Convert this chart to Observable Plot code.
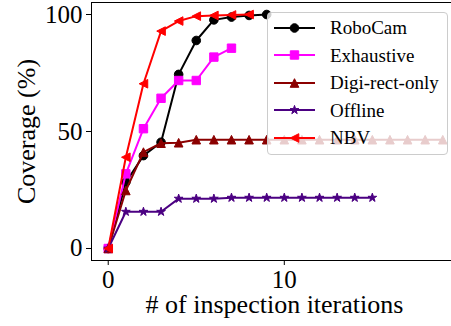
<!DOCTYPE html>
<html>
<head>
<meta charset="utf-8">
<script src="https://cdn.jsdelivr.net/npm/d3@7"></script>
<script src="https://cdn.jsdelivr.net/npm/@observablehq/plot@0.6"></script>
<style>
  html, body { margin: 0; padding: 0; background: #fff; overflow: hidden; }
  #chart { position: relative; width: 451px; height: 326px; overflow: hidden; }
  #chart svg { overflow: hidden; }
  .key-box {
    position: absolute; left: 267px; top: 12px; width: 179px; height: 141px;
    background: rgba(255,255,255,0.8); border: 1px solid #cccccc; border-radius: 4px;
    color: #000;
  }
  .key-box .row { position: absolute; left: 0; height: 27px; display: flex; align-items: center; }
  .key-box .row svg { display: block; margin-left: 6px; }
  .key-box .row span { margin-left: 15px; line-height: 1; white-space: nowrap; }
</style>
</head>
<body>
<div id="chart"></div>
<script>
// Coverage (%) after each inspection iteration, one array per method
const seriesNames = ["RoboCam", "Exhaustive", "Digi-rect-only", "Offline", "NBV"];
const robocam = [0, 28.3, 39.7, 45.4, 74.4, 88.9, 97.7, 98.9, 99.6, 100];
const exhaustive = [0, 31.9, 51.2, 64.2, 71.8, 71.8, 81.8, 85.6];
const digiRectOnly = [0, 24.8, 41.2, 45.0, 45.2, 46.5, 46.5, 46.5, 46.5, 46.5,
                      46.5, 46.5, 46.5, 46.5, 46.5, 46.5, 46.5, 46.5, 46.5, 46.5];
const offline = [0, 15.7, 15.7, 15.7, 21.3, 21.3, 21.3, 21.7, 21.7, 21.7,
                 21.7, 21.7, 21.7, 21.7, 21.7, 21.7];
const nbv = [0, 39.0, 70.4, 92.9, 97.2, 99.3, 99.6, 99.8, 100];
const xTicks = [0, 10];
const yTicks = [0, 50, 100];
const seriesColors = ["#000000", "#ff00ff", "#8b0000", "#4b0082", "#ff0000"];

const serif = "'Liberation Serif', 'Times New Roman', serif";

// Marker shapes in the style of matplotlib: o, s, ^, *, <
const half = (size) => Math.sqrt(size / Math.PI);
const mCircle = { draw(ctx, size) { const h = half(size); ctx.moveTo(h, 0); ctx.arc(0, 0, h, 0, 2 * Math.PI); } };
const mSquare = { draw(ctx, size) { const h = half(size); ctx.rect(-h, -h, 2 * h, 2 * h); } };
const mTriUp = { draw(ctx, size) { const h = half(size); ctx.moveTo(0, -h); ctx.lineTo(h, h); ctx.lineTo(-h, h); ctx.closePath(); } };
const mTriLeft = { draw(ctx, size) { const h = half(size); ctx.moveTo(-h, 0); ctx.lineTo(h, -h); ctx.lineTo(h, h); ctx.closePath(); } };
const mStar = { draw(ctx, size) {
  const h = half(size), r2 = h * 0.381966;
  for (let i = 0; i < 10; i++) {
    const a = -Math.PI / 2 + i * Math.PI / 5, r = i % 2 ? r2 : h;
    const px = r * Math.cos(a), py = r * Math.sin(a);
    i ? ctx.lineTo(px, py) : ctx.moveTo(px, py);
  }
  ctx.closePath();
} };
const symbols = [mCircle, mSquare, mTriUp, mStar, mTriLeft];
const markerR = [4.3, 4.2, 4.3, 4.6, 4.3];

const allSeries = [robocam, exhaustive, digiRectOnly, offline, nbv];
const tables = allSeries.map((vals, k) => vals.map((v, i) => ({ iter: i, coverage: v, method: seriesNames[k] })));

const marks = [];
tables.forEach((rows, k) => {
  marks.push(Plot.line(rows, { x: "iter", y: "coverage", stroke: seriesColors[k], strokeWidth: 2 }));
  marks.push(Plot.dot(rows, { x: "iter", y: "coverage", r: markerR[k], symbol: symbols[k],
    fill: seriesColors[k], stroke: seriesColors[k], strokeWidth: 1 }));
});

const chart = Plot.plot({
  width: 451,
  height: 326,
  marginLeft: 91,
  marginRight: -8,
  marginTop: 2,
  marginBottom: 66,
  style: { fontFamily: serif, color: "#000", background: "#fff" },
  x: { domain: [-0.95, 19.95] },
  y: { domain: [-5.13, 105.13] },
  marks: [
    Plot.frame({ stroke: "#000", strokeWidth: 1 }),
    ...marks,
    // tick marks only; the tick labels are separate text marks below
    Plot.axisX(xTicks, { tickSize: 5, tickFormat: () => "", label: null }),
    Plot.axisY(yTicks, { tickSize: 5, tickFormat: () => "", label: null }),
    Plot.text(xTicks, { x: (d) => d, frameAnchor: "bottom", textAnchor: "middle", lineAnchor: "middle", dy: 19, fontSize: 25 }),
    Plot.text(yTicks, { y: (d) => d, frameAnchor: "left", textAnchor: "end", lineAnchor: "middle", dx: -9, fontSize: 25 }),
    Plot.text(["# of inspection iterations"], { frameAnchor: "bottom", textAnchor: "middle", lineAnchor: "middle", dy: 44, dx: -1, fontSize: 26 }),
    Plot.text(["Coverage (%)"], { frameAnchor: "left", textAnchor: "middle", lineAnchor: "middle", rotate: -90, dx: -65, fontSize: 26 })
  ]
});

const host = document.getElementById("chart");
host.appendChild(chart);

// Legend box drawn over the plot area
const legend = document.createElement("div");
legend.className = "key-box";
legend.style.fontFamily = serif;
legend.style.fontSize = "19px";
seriesNames.forEach((name, k) => {
  const row = document.createElement("div");
  row.className = "row";
  row.style.top = (k * 27.5 + 1) + "px";
  const sw = d3.create("svg").attr("width", 41).attr("height", 12);
  sw.append("line").attr("x1", 0).attr("x2", 41).attr("y1", 6).attr("y2", 6)
    .attr("stroke", seriesColors[k]).attr("stroke-width", 2);
  sw.append("path").attr("transform", "translate(20.5,6)")
    .attr("d", d3.symbol(symbols[k], Math.PI * markerR[k] * markerR[k])())
    .attr("fill", seriesColors[k]).attr("stroke", seriesColors[k]).attr("stroke-width", 1);
  row.appendChild(sw.node());
  const label = document.createElement("span");
  label.textContent = name;
  label.style.fontFamily = serif;
  row.appendChild(label);
  legend.appendChild(row);
});
host.appendChild(legend);
</script>
</body>
</html>
